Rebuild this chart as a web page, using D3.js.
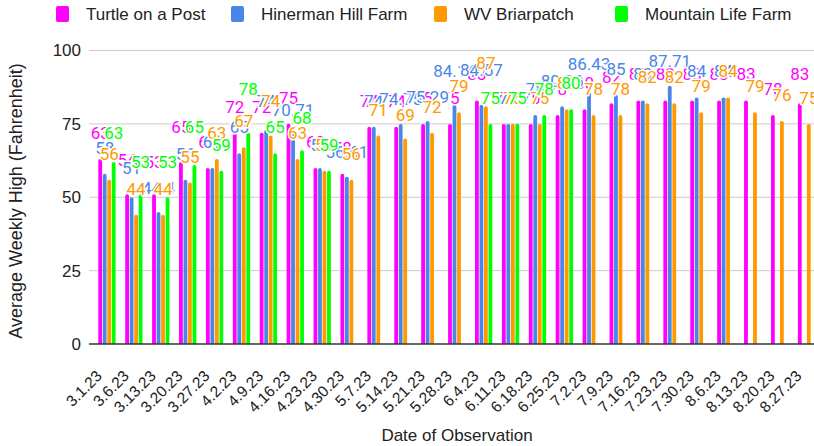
<!DOCTYPE html>
<html>
<head>
<meta charset="utf-8">
<script src="https://cdn.jsdelivr.net/npm/d3@7/dist/d3.min.js"></script>
<style>
  html, body { margin: 0; padding: 0; background: #fff; }
  svg { display: block; }
</style>
</head>
<body>
<svg id="chart" width="814" height="446"></svg>
<script>
// ---- data ----
const dates = ["3.1.23","3.6.23","3.13.23","3.20.23","3.27.23","4.2.23","4.9.23","4.16.23","4.23.23","4.30.23","5.7.23","5.14.23","5.21.23","5.28.23","6.4.23","6.11.23","6.18.23","6.25.23","7.2.23","7.9.23","7.16.23","7.23.23","7.30.23","8.6.23","8.13.23","8.20.23","8.27.23"];
const seriesNames = ["Turtle on a Post","Hinerman Hill Farm","WV Briarpatch","Mountain Life Farm"];
const seriesColors = ["#ff00ff","#4a86e8","#ff9900","#00ff00"];

const turtle   = [63,51,51,62,60,72,72,75,60,58,74,74,75,75,83,75,75,78,80,82,83,83,83,83,83,78,82];
const hinerman = [58,50,45,56,60,65,73,73,60,57,74,75,76,81.5,81.5,75,78,81,86,85,83,88,84,84,null,null,null];
const briar    = [56,44,44,55,63,67,71,63,59,56,71,70,72,79,81,75,75,80,78,78,82,82,79,84,79,76,75];
const mountain = [62,51,50,61,59,72,65,66,59,null,null,null,null,null,75,75,78,80,null,null,null,null,null,null,null,null,null];

const turtleLabels   = ["63","54","53","65","60","72","72","75","60","58","74","74","75","75","83","75","75","78","80","82","83","83","83","83","83","78","83"];
const hinermanLabels = ["58","51","44.4","56","60","65","74","70.71","59","56.61","74","74.75","75.29","84.14","84.57","75","78","80.86","86.43","85","83","87.71","84","84",null,null,null];
const briarLabels    = ["56","44","44","55","63","67","74","63","59","56","71","69","72","79","87","75","75","80","78","78","82","82","79","84","79","76","75"];
const mountainLabels = ["63","53","53","65","59","78","65","68","59",null,null,null,null,null,"75","75","78","80",null,null,null,null,null,null,null,null,null];

const yTicks = [0,25,50,75,100];

const values = [turtle, hinerman, briar, mountain];
const labels = [turtleLabels, hinermanLabels, briarLabels, mountainLabels];

// ---- layout ----
const svg = d3.select("#chart");
const plotLeft = 89, plotRight = 814;

const x = d3.scaleBand().domain(dates).range([93.5, 820]);
const xs = d3.scaleBand().domain(d3.range(4)).range([-9, 9]);
const y = d3.scaleLinear().domain([0, 100]).range([344, 50.5]);

const FONT = "'Liberation Sans', Arial, Helvetica, sans-serif";

// y axis ticks + gridlines
const yAxis = d3.axisLeft(y).tickValues(yTicks).tickSize(0).tickPadding(8);
const gy = svg.append("g").attr("transform", `translate(${plotLeft},0)`).call(yAxis);
gy.select(".domain").remove();
gy.selectAll("text").attr("font-family", FONT).attr("font-size", 17).attr("fill", "#222");
svg.append("g").selectAll("line").data(yTicks.filter(d => d > 0)).join("line")
  .attr("x1", plotLeft).attr("x2", plotRight)
  .attr("y1", d => y(d)).attr("y2", d => y(d))
  .attr("stroke", "#cccccc").attr("stroke-width", 1);

// bars
const barW = 3.8;
function barPath(cx, v) {
  const x0 = cx - barW / 2, x1 = cx + barW / 2, top = y(v), base = y(0), r = barW / 2;
  return `M${x0},${base}L${x0},${top + r}A${r},${r} 0 0 1 ${x1},${top + r}L${x1},${base}Z`;
}
values.forEach((arr, si) => {
  svg.append("g").selectAll("path")
    .data(dates.map((d, i) => ({ d, v: arr[i] })).filter(o => o.v != null))
    .join("path")
    .attr("d", o => barPath(x(o.d) + x.bandwidth() / 2 + xs(si) + xs.bandwidth() / 2, o.v))
    .attr("fill", seriesColors[si]);
});

// x axis baseline
svg.append("line").attr("x1", plotLeft).attr("x2", plotRight)
  .attr("y1", y(0)).attr("y2", y(0)).attr("stroke", "#333").attr("stroke-width", 1.5);

// data labels
labels.forEach((arr, si) => {
  svg.append("g").selectAll("text")
    .data(dates.map((d, i) => ({ d, t: arr[i] })).filter(o => o.t != null))
    .join("text")
    .attr("x", o => x(o.d) + x.bandwidth() / 2 + xs(si) + xs.bandwidth() / 2)
    .attr("y", o => y(parseFloat(o.t)) - 20)
    .attr("text-anchor", "middle")
    .attr("font-family", "Roboto, 'Liberation Sans', Arial, sans-serif")
    .attr("font-size", 17)
    .attr("fill", seriesColors[si])
    .attr("stroke", "#fff").attr("stroke-width", 3).attr("stroke-linejoin", "round")
    .attr("paint-order", "stroke")
    .text(o => o.t);
});

// x tick labels
const xAxis = d3.axisBottom(x).tickSize(0).tickPadding(0);
const gx = svg.append("g").attr("transform", `translate(0,${y(0)})`).call(xAxis);
gx.select(".domain").remove();
gx.selectAll("text")
  .attr("font-family", FONT).attr("font-size", 15.5).attr("fill", "#222")
  .attr("text-anchor", "end")
  .attr("dy", null).attr("y", 0)
  .attr("transform", "translate(-4,33) rotate(-45)");

// axis titles
svg.append("text").attr("x", 457).attr("y", 441).attr("text-anchor", "middle")
  .attr("font-family", FONT).attr("font-size", 17).attr("fill", "#222")
  .text("Date of Observation");
svg.append("text").attr("transform", "translate(22,201) rotate(-90)").attr("text-anchor", "middle")
  .attr("font-family", FONT).attr("font-size", 18).attr("fill", "#222")
  .text("Average Weekly High (Fahrenheit)");

// legend
const legX = [56, 231, 434, 615];
const lg = svg.append("g");
seriesNames.forEach((n, i) => {
  lg.append("rect").attr("x", legX[i]).attr("y", 6).attr("width", 13).attr("height", 16)
    .attr("rx", 2).attr("fill", seriesColors[i]);
  lg.append("text").attr("x", legX[i] + 30).attr("y", 20)
    .attr("font-family", FONT).attr("font-size", 17).attr("fill", "#222").text(n);
});
</script>
</body>
</html>
